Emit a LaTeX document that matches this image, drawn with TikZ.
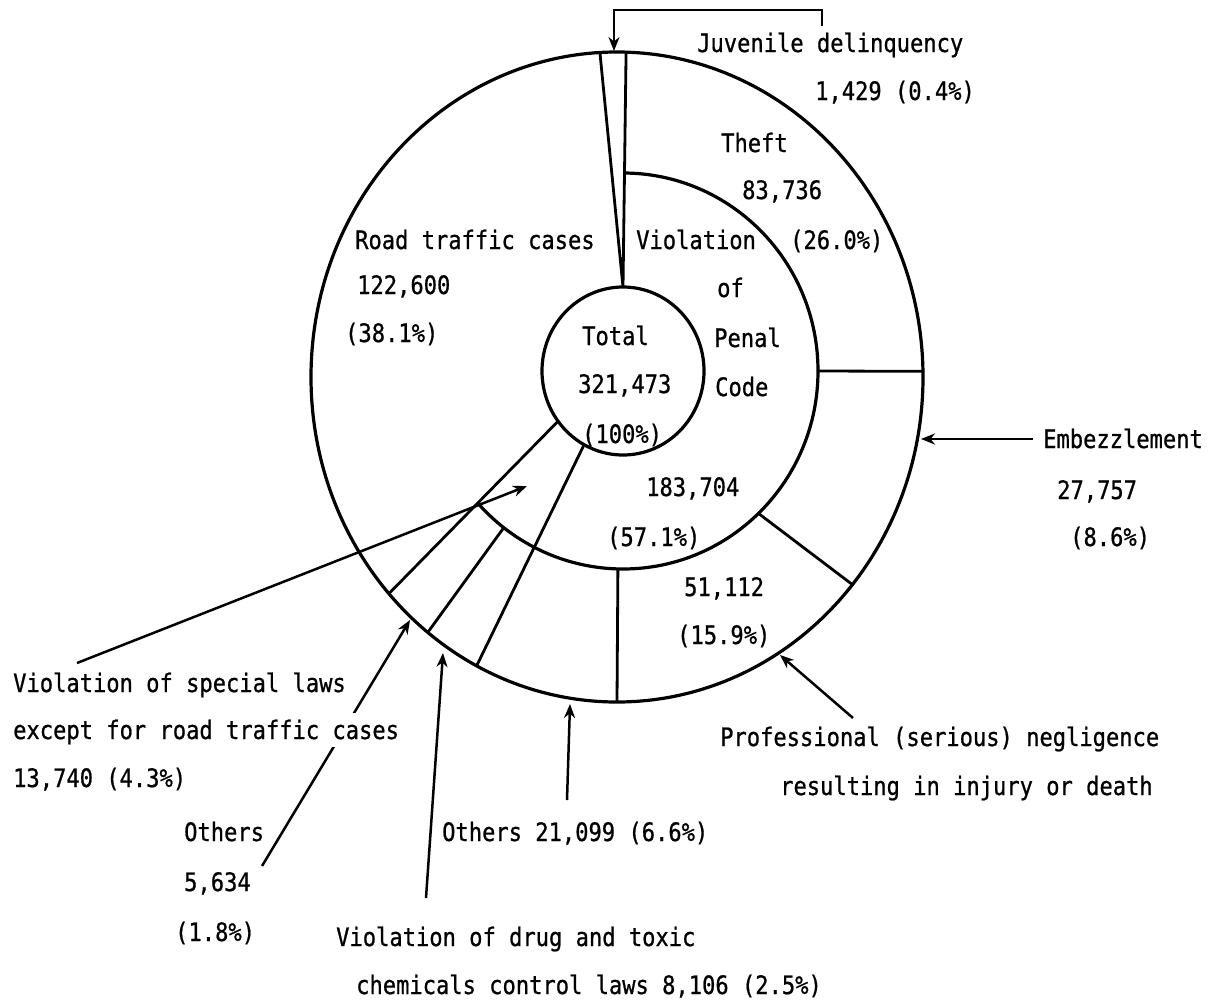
\documentclass[tikz,border=0pt]{standalone}
\usepackage{fontspec}
\setmonofont{DejaVu Sans Mono}[FakeStretch=0.87, FakeBold=0.8]
\usepackage{tikz}
\usetikzlibrary{calc,arrows.meta,backgrounds}

\begin{document}
\begin{tikzpicture}[x=1pt, y=-1pt, >={Stealth[length=14pt,width=11pt]},
    every node/.style={font=\ttfamily\fontsize{25.4}{30}\selectfont},
    lbl/.style={anchor=west, inner sep=0pt, text height=18pt, text depth=0pt},
    ring/.style={line width=3.2pt},
    sep/.style={line width=2.8pt},
    arr/.style={line width=2.5pt, ->}]
  \useasboundingbox (0,0) rectangle (1217,1001);
  \coordinate (oc) at (617,377);
  \coordinate (mc) at (623,371);

  % rings
  \draw[ring] (oc) ellipse [x radius=306, y radius=325];
  \draw[ring] (mc) ellipse [x radius=81, y radius=84];
  \draw[ring] ([shift={(-90:195 and 198)}]mc)
    arc [start angle=-90, end angle=138, x radius=195, y radius=198];

  % juvenile wedge
  \draw[sep] ([shift={(-93.2:306 and 325)}]oc) -- ([shift={(-90:81 and 84)}]mc)
    -- ([shift={(-88.3:306 and 325)}]oc);
  % sector borders
  \draw[sep] ([shift={(0:195 and 198)}]mc) -- ([shift={(-1:306 and 325)}]oc);
  \draw[sep] ([shift={(46:195 and 198)}]mc) -- ([shift={(39.7:306 and 325)}]oc);
  \draw[sep] ([shift={(91.5:195 and 198)}]mc) -- ([shift={(90:306 and 325)}]oc);
  \draw[sep] ([shift={(118.7:81 and 84)}]mc) -- ([shift={(117.3:306 and 325)}]oc);
  \draw[sep] ([shift={(127.7:195 and 198)}]mc) -- ([shift={(128.2:306 and 325)}]oc);
  \draw[sep] ([shift={(143.3:81 and 84)}]mc) -- ([shift={(138.2:306 and 325)}]oc);

  % labels inside
  \node[lbl] (rd1) at (355,240) {Road traffic cases};
  \node[lbl] (rd2) at (357,285) {122,600};
  \node[lbl] (rd3) at (345,333) {(38.1\%)};
  \node[lbl] (thf1) at (721,143) {Theft};
  \node[lbl] (thf2) at (742,190) {83,736};
  \node[lbl] (thf3) at (790,240) {(26.0\%)};
  \node[lbl] (pc1) at (636,240) {Violation};
  \node[lbl] (pc2) at (717,288) {of};
  \node[lbl] (pc3) at (714,338) {Penal};
  \node[lbl] (pc4) at (715,387) {Code};
  \node[lbl] (pc5) at (646,487) {183,704};
  \node[lbl] (pc6) at (607,537) {(57.1\%)};
  \node[lbl] (tot1) at (582,336) {Total};
  \node[lbl] (tot2) at (578,384) {321,473};
  \node[lbl] (tot3) at (582,434) {(100\%)};
  \node[lbl] (neg1) at (684,587) {51,112};
  \node[lbl] (neg2) at (677,635) {(15.9\%)};

  % labels outside
  \node[lbl] (juv1) at (697,43) {Juvenile delinquency};
  \node[lbl] (juv2) at (815,91) {1,429 (0.4\%)};
  \node[lbl] (emb1) at (1043,439) {Embezzlement};
  \node[lbl] (emb2) at (1057,490) {27,757};
  \node[lbl] (emb3) at (1070,537) {(8.6\%)};
  \node[lbl] (neg3) at (720,737) {Professional (serious) negligence};
  \node[lbl] (neg4) at (780,786) {resulting in injury or death};
  \node[lbl] (spl1) at (13,683) {Violation of special laws};
  \node[lbl, fill=white, inner ysep=8pt] (spl2) at (13,730) {except for road traffic cases};
  \node[lbl] (spl3) at (13,778) {13,740 (4.3\%)};
  \node[lbl] (oth1) at (184,832) {Others};
  \node[lbl] (oth2) at (184,882) {5,634};
  \node[lbl] (oth3) at (175,932) {(1.8\%)};
  \node[lbl] (oth4) at (442,832) {Others 21,099 (6.6\%)};
  \node[lbl] (drg1) at (336,937) {Violation of drug and toxic};
  \node[lbl] (drg2) at (356,985) {chemicals control laws 8,106 (2.5\%)};

  % arrow ends
  \coordinate (jvk) at (822,26);
  \coordinate (jvtip) at (614,51);
  \coordinate (embst) at ([xshift=-10pt]emb1.west);
  \coordinate (embtip) at (921,439);
  \coordinate (negst) at (853,718);
  \coordinate (negtip) at (780,655);
  \coordinate (oth4st) at (567,800);
  \coordinate (oth4tip) at (570,704);
  \coordinate (drgst) at (426,898);
  \coordinate (drgtip) at (443,653);
  \coordinate (oth1st) at (262,866);
  \coordinate (oth1tip) at (410,620);
  \coordinate (splst) at (77,663);
  \coordinate (spltip) at (527,486);

  \begin{scope}[on background layer]
    \draw[arr] (jvk) -- ++(0,-16) -| (jvtip);
    \draw[arr] (embst) -- (embtip);
    \draw[arr] (negst) -- (negtip);
    \draw[arr] (oth4st) -- (oth4tip);
    \draw[arr] (drgst) -- (drgtip);
    \draw[arr] (oth1st) -- (oth1tip);
    \draw[arr] (splst) -- (spltip);
  \end{scope}
\end{tikzpicture}
\end{document}
